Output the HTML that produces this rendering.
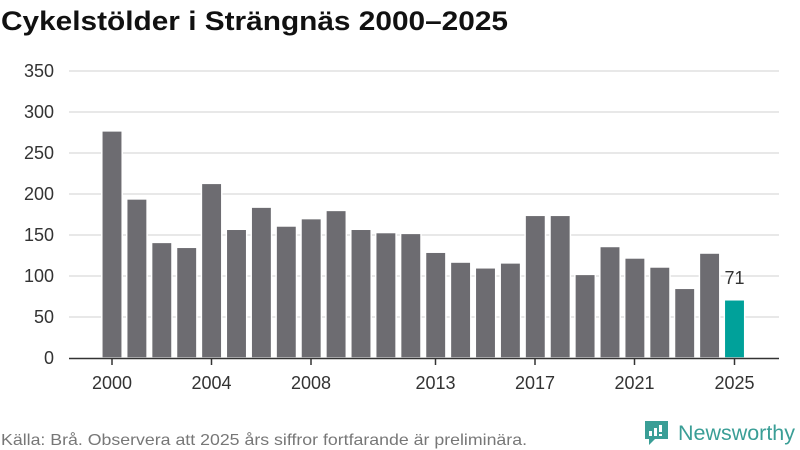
<!DOCTYPE html>
<html><head><meta charset="utf-8"><style>
html,body{margin:0;padding:0;background:#fff;width:800px;height:450px;overflow:hidden}
svg{display:block;font-family:"Liberation Sans","DejaVu Sans",sans-serif}
</style></head><body>
<svg width="800" height="450" viewBox="0 0 800 450">
<text x="1" y="30" font-size="27" font-weight="bold" fill="#111" textLength="507" lengthAdjust="spacingAndGlyphs">Cykelstölder i Strängnäs 2000–2025</text>
<g stroke="#e0e0e0" stroke-width="1.5">
<line x1="69" x2="779" y1="71" y2="71"/>
<line x1="69" x2="779" y1="112" y2="112"/>
<line x1="69" x2="779" y1="153" y2="153"/>
<line x1="69" x2="779" y1="194" y2="194"/>
<line x1="69" x2="779" y1="235" y2="235"/>
<line x1="69" x2="779" y1="276" y2="276"/>
<line x1="69" x2="779" y1="317" y2="317"/>
</g>
<g font-size="18" fill="#333" text-anchor="end">
<text x="54" y="77">350</text><text x="54" y="118">300</text><text x="54" y="159">250</text>
<text x="54" y="200">200</text><text x="54" y="241">150</text><text x="54" y="282">100</text>
<text x="54" y="323">50</text><text x="54" y="364">0</text>
</g>
<g id="bars" stroke="#fff" stroke-width="1.5"></g>
<line x1="69" x2="779" y1="358.5" y2="358.5" stroke="#333" stroke-width="1.5"/>
<g stroke="#333" stroke-width="1.5">
<line x1="112" x2="112" y1="358" y2="365"/><line x1="211.5" x2="211.5" y1="358" y2="365"/>
<line x1="311" x2="311" y1="358" y2="365"/><line x1="435.5" x2="435.5" y1="358" y2="365"/>
<line x1="535" x2="535" y1="358" y2="365"/><line x1="634.5" x2="634.5" y1="358" y2="365"/>
<line x1="734.5" x2="734.5" y1="358" y2="365"/>
</g>
<g font-size="18" fill="#333" text-anchor="middle">
<text x="112" y="389">2000</text><text x="211.5" y="389">2004</text><text x="311" y="389">2008</text>
<text x="435.5" y="389">2013</text><text x="535" y="389">2017</text><text x="634.5" y="389">2021</text>
<text x="734.5" y="389">2025</text>
</g>
<text x="734.5" y="284" font-size="18" fill="#333" text-anchor="middle">71</text>
<text x="1" y="445" font-size="16" fill="#777" textLength="526" lengthAdjust="spacingAndGlyphs">Källa: Brå. Observera att 2025 års siffror fortfarande är preliminära.</text>
<g transform="translate(645,421)">
<path d="M0 0h23v18h-13l-6 6v-6h-4z" fill="#3a9e96"/>
<rect x="4" y="10" width="3" height="5" fill="#fff"/>
<rect x="9" y="7" width="3" height="8" fill="#fff"/>
<rect x="14" y="4" width="3" height="7" fill="#fff"/>
<rect x="14" y="13" width="3" height="2" fill="#fff"/>
</g>
<text x="678" y="440" font-size="21" fill="#3a9e96" textLength="117" lengthAdjust="spacingAndGlyphs">Newsworthy</text>
</svg>
<script>
var v=[277,194,141,135,213,157,184,161,170,180,157,153,152,129,117,110,116,174,174,102,136,122,111,85,128,71];
var g=document.getElementById('bars'),s='';
for(var i=0;i<v.length;i++){var cx=112+i*24.9,h=v[i]*0.82;
s+='<rect x="'+(cx-10.2)+'" y="'+(358-h)+'" width="20.4" height="'+h+'" fill="'+(i==25?'#00a19a':'#6d6c71')+'"/>';}
g.innerHTML=s;
</script>
</body></html>
